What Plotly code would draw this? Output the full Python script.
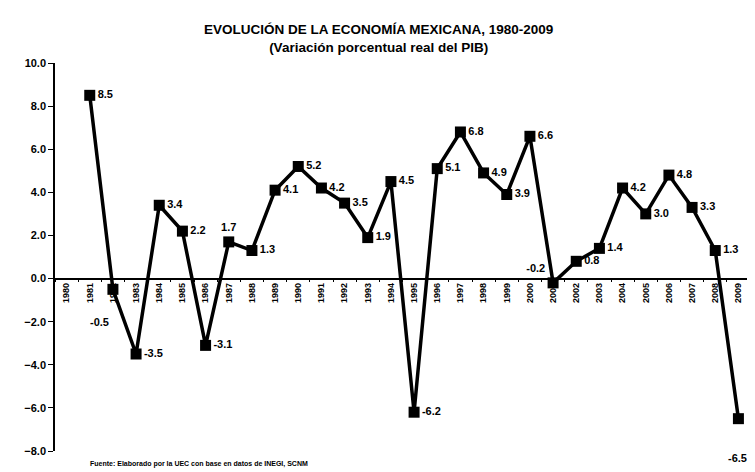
import plotly.graph_objects as go

years = [str(y) for y in range(1980, 2010)]
pib = [None, 8.5, -0.5, -3.5, 3.4, 2.2, -3.1, 1.7, 1.3, 4.1, 5.2, 4.2, 3.5, 1.9, 4.5,
       -6.2, 5.1, 6.8, 4.9, 3.9, 6.6, -0.2, 0.8, 1.4, 4.2, 3.0, 4.8, 3.3, 1.3, -6.5]
label_pos = ["middle right"] * len(pib)
label_pos[7] = "top center"
label_pos[21] = "top left"
# labels that sit well away from their marker: (index, xshift, yshift)
far_labels = [(2, -13, -33), (29, -1, -39)]

FONT = "Liberation Sans Narrow, Liberation Sans, Arial"
Y_MIN, Y_MAX = -8, 10

texts = ["" if v is None else f"{v:.1f}" for v in pib]
for i, _, _ in far_labels:
    texts[i] = ""

fig = go.Figure()
fig.add_trace(
    go.Scatter(
        x=years,
        y=pib,
        mode="lines+markers+text",
        text=texts,
        textposition=label_pos,
        textfont={"family": FONT, "size": 11, "color": "black", "weight": "bold"},
        line={"color": "black", "width": 3.5},
        marker={"symbol": "square", "size": 11, "color": "black"},
        cliponaxis=False,
        showlegend=False,
    )
)

for i, dx, dy in far_labels:
    # category axis: position by category index
    fig.add_annotation(
        x=i, y=pib[i], text=f"<b>{pib[i]:.1f}</b>",
        xshift=dx, yshift=dy, xanchor="center", yanchor="middle",
        showarrow=False, font={"size": 11, "color": "black"},
    )

# the page adds an 8px body margin, so the figure is sized to fit inside it
fig.update_layout(
    width=747,
    height=464,
    margin={"l": 47, "r": 5, "t": 55, "b": 21},
    paper_bgcolor="white",
    plot_bgcolor="white",
    font={"family": FONT, "color": "black"},
    xaxis={
        "type": "category",
        "range": [-0.5, 29.5],
        "anchor": "free",
        "position": -Y_MIN / (Y_MAX - Y_MIN),
        "automargin": False,
        "showline": True,
        "linecolor": "black",
        "linewidth": 1.5,
        "ticks": "outside",
        "tickson": "boundaries",
        "ticklen": 3,
        "tickcolor": "black",
        "tickangle": -90,
        "tickfont": {"size": 9, "weight": "bold"},
        "showgrid": False,
    },
    yaxis={
        "range": [Y_MIN, Y_MAX],
        "dtick": 2,
        "tickformat": ".1f",
        "automargin": False,
        "showline": True,
        "linecolor": "black",
        "linewidth": 1.5,
        "ticks": "outside",
        "ticklen": 5,
        "tickcolor": "black",
        "tickfont": {"size": 11, "weight": "bold"},
        "showgrid": False,
        "zeroline": False,
    },
)

fig.add_annotation(
    text="<b>EVOLUCIÓN DE LA ECONOMÍA MEXICANA, 1980-2009</b><br><b>(Variación porcentual real del PIB)</b>",
    xref="paper", yref="paper", x=0.466, y=1.064,
    xanchor="center", yanchor="middle", showarrow=False,
    font={"size": 13.5},
)
fig.add_annotation(
    text="<b>Fuente: Elaborado por la UEC con base en datos de INEGI, SCNM</b>",
    xref="paper", yref="paper", x=0.047, y=-0.034,
    xanchor="left", yanchor="middle", showarrow=False,
    font={"size": 7},
)

fig.write_html("out.html")
